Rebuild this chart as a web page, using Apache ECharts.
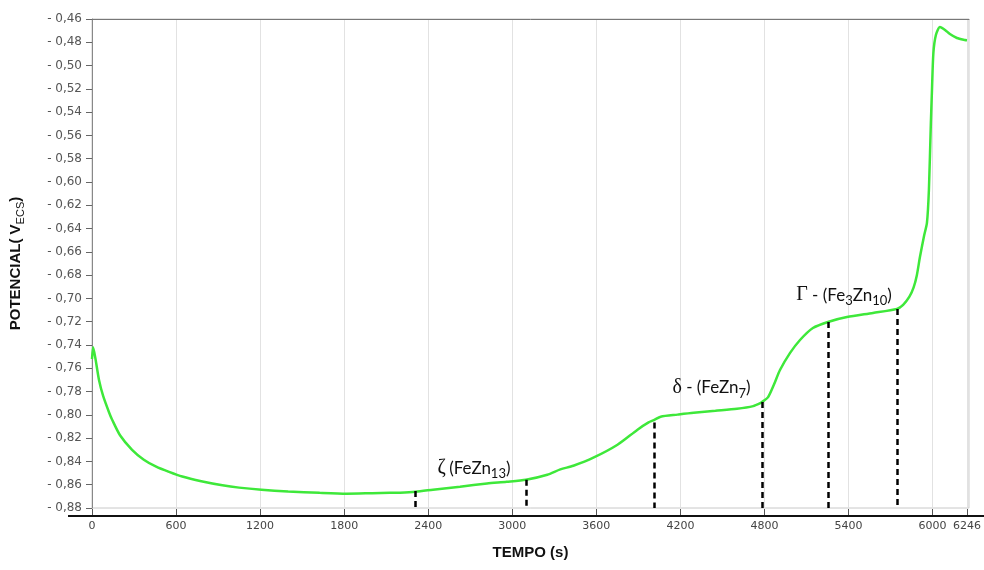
<!DOCTYPE html>
<html>
<head>
<meta charset="utf-8">
<script src="https://cdn.jsdelivr.net/npm/echarts@6/dist/echarts.min.js"></script>
<style>
  html, body { margin: 0; padding: 0; background: #fff; }
  #chart { width: 984px; height: 570px; }
</style>
</head>
<body>
<div id="chart"></div>
<script>
// Open-circuit potential of the galvanized coating vs. time
const tempo = [0, 8, 25, 50, 80, 122, 143, 200, 286, 370, 458, 550, 644, 780, 931, 1050, 1210, 1400, 1625, 1818, 2000, 2126, 2198, 2310, 2434, 2627, 2820, 2960, 3098, 3250, 3343, 3436, 3579, 3751, 3894, 3973, 4011, 4059, 4180, 4295, 4450, 4604, 4720, 4770, 4782, 4825, 4868, 4911, 4982, 5054, 5146, 5253, 5389, 5575, 5746, 5790, 5835, 5865, 5888, 5910, 5940, 5960, 5974, 5988, 5996, 6006, 6024, 6053, 6089, 6124, 6174, 6231, 6246];
const potencial = [-0.752, -0.742, -0.752, -0.770, -0.784, -0.798, -0.804, -0.8175, -0.830, -0.8385, -0.8445, -0.849, -0.853, -0.857, -0.8605, -0.8625, -0.8643, -0.8658, -0.867, -0.8677, -0.8673, -0.867, -0.8668, -0.866, -0.8643, -0.8617, -0.859, -0.8575, -0.8557, -0.8514, -0.8468, -0.8437, -0.8368, -0.8257, -0.8127, -0.8065, -0.8045, -0.8016, -0.7998, -0.7982, -0.7965, -0.7948, -0.7925, -0.790, -0.789, -0.785, -0.774, -0.7615, -0.747, -0.7357, -0.7254, -0.7202, -0.716, -0.7125, -0.709, -0.7055, -0.6985, -0.6905, -0.680, -0.6644, -0.646, -0.6352, -0.6069, -0.5493, -0.521, -0.4892, -0.4737, -0.4669, -0.4694, -0.4729, -0.4763, -0.478, -0.4782];

// Phase boundaries (time, potential at the curve)
const fronteirasT = [2310, 3098, 4011, 4782, 5253, 5746];
const fronteirasV = [-0.8655, -0.8557, -0.8065, -0.789, -0.7202, -0.709];

// Phase labels: text and anchor position (time, potential)
const fasesTexto = [
  '{g|ζ} {t|(FeZn}{s|13}{t|)}',
  '{g|δ}{t| - (FeZn}{s|7}{t|)}',
  '{g|Γ}{t| - (Fe}{s|3}{t|Zn}{s|10}{t|)}'
];
const fasesT = [2727, 4422, 5368];
const fasesV = [-0.8457, -0.7769, -0.6971];

const xTicks = [0, 600, 1200, 1800, 2400, 3000, 3600, 4200, 4800, 5400, 6000, 6246];
const yMin = -0.88, yMax = -0.46, yStep = 0.02;

const chart = echarts.init(document.getElementById('chart'));

const serieDados = tempo.map((t, i) => [t, potencial[i]]);
const linhas = fronteirasT.map((t, i) => [
  { coord: [t, fronteirasV[i]] },
  { coord: [t, yMin] }
]);
const rotulos = fasesT.map((t, i) => ({
  coord: [t, fasesV[i]],
  label: { formatter: fasesTexto[i] }
}));

const richFase = {
  g: { fontFamily: 'Liberation Serif', fontSize: 20, color: '#111' },
  t: { fontFamily: 'Lato', fontSize: 17, color: '#111' },
  s: { fontFamily: 'Lato', fontSize: 13, color: '#111', padding: [12, 0, 0, 0] }
};

chart.setOption({
  animation: false,
  backgroundColor: '#fff',
  grid: {
    left: 92, right: 15, top: 19, bottom: 62,
    show: true, borderColor: '#c8c8c8', borderWidth: 1
  },
  xAxis: [{
    type: 'value',
    min: 0, max: 6260, interval: 600,
    offset: 8,
    name: 'TEMPO (s)',
    nameLocation: 'middle',
    nameGap: 29,
    nameTextStyle: { fontFamily: 'Liberation Sans', fontWeight: 'bold', fontSize: 15, color: '#111' },
    axisLine: { show: false },
    axisTick: { show: true, inside: true, length: 7, customValues: xTicks, lineStyle: { color: '#555' } },
    axisLabel: {
      customValues: xTicks, margin: 5,
      fontFamily: 'DejaVu Sans', fontSize: 11, color: '#444',
      formatter: v => String(v)
    },
    splitLine: { show: true, lineStyle: { color: '#e2e2e2', width: 1 } }
  }, {
    type: 'value', position: 'top',
    min: 0, max: 6260,
    axisLine: { show: true, lineStyle: { color: '#777', width: 1 } },
    axisTick: { show: false }, axisLabel: { show: false }, splitLine: { show: false }
  }],
  yAxis: {
    type: 'value',
    min: yMin, max: yMax, interval: yStep,
    name: '{a|POTENCIAL( V}{b|ECS}{a|)}',
    nameLocation: 'middle',
    nameRotate: 90,
    nameGap: 66,
    nameTextStyle: {
      rich: {
        a: { fontFamily: 'Liberation Sans', fontWeight: 'bold', fontSize: 15, color: '#111' },
        b: { fontFamily: 'Liberation Sans', fontSize: 11, color: '#111', padding: [9, 0, 0, 0] }
      }
    },
    axisLine: { show: true, lineStyle: { color: '#888', width: 1 } },
    axisTick: { show: true, length: 6, lineStyle: { color: '#666' } },
    axisLabel: {
      margin: 10,
      fontFamily: 'DejaVu Sans', fontSize: 12, color: '#555',
      formatter: v => '- ' + Math.abs(v).toFixed(2).replace('.', ',')
    },
    splitLine: { show: false }
  },
  graphic: [{
    type: 'line',
    shape: { x1: 68, y1: 516, x2: 984, y2: 516 },
    style: { stroke: '#111', lineWidth: 2 },
    z: 10
  }],
  series: [{
    type: 'line',
    data: serieDados,
    showSymbol: false,
    smooth: 0.25,
    lineStyle: { color: '#3ee83a', width: 2.5 },
    z: 3,
    markLine: {
      silent: true,
      symbol: ['none', 'none'],
      label: { show: false },
      lineStyle: { color: '#000', width: 2.5, type: [6, 4] },
      data: linhas
    },
    markPoint: {
      silent: true,
      symbol: 'circle',
      symbolSize: 0,
      label: { show: true, position: 'inside', rich: richFase },
      data: rotulos
    }
  }]
});
</script>
</body>
</html>
